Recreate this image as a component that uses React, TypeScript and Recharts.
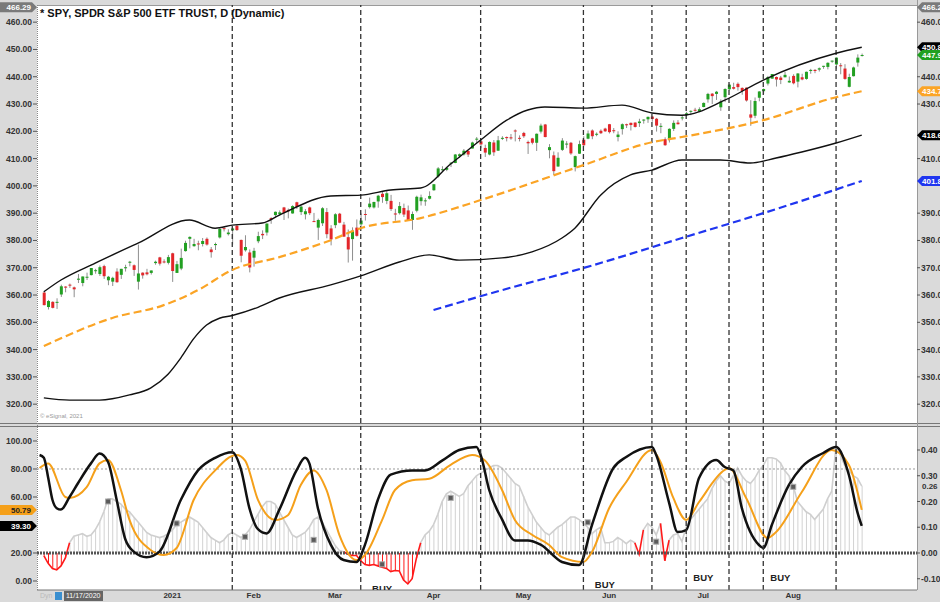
import { ComposedChart, Bar, Line, XAxis, YAxis, ReferenceLine, Scatter, Cell } from 'recharts';

// daily candles, index 0 = 11/18/2020 ... index 191 = 8/24/2021  [open, high, low, close]
const CANDLES: [number, number, number, number][] = [
  // Nov
  [360.9, 361.5, 356.2, 356.3], [355.6, 358.2, 354.7, 357.8], [357.5, 357.7, 355.1, 355.3], [357.3, 358.8, 354.9, 357.5],
  [360.2, 363.8, 359.3, 363.2], [363.1, 363.2, 361.0, 362.7], [363.8, 364.2, 362.6, 363.7], [362.8, 363.1, 359.2, 362.1],
  // Dec
  [365.6, 367.7, 364.4, 366.0], [364.4, 366.8, 363.2, 366.8], [366.7, 368.2, 365.5, 366.7], [367.3, 369.9, 367.2, 369.9],
  [369.0, 369.6, 367.8, 369.1], [367.7, 370.8, 367.0, 370.2], [370.6, 371.1, 365.9, 366.9], [365.4, 367.0, 363.6, 366.7],
  [364.9, 366.7, 363.3, 366.3], [368.6, 369.8, 364.5, 364.7], [367.4, 369.6, 365.9, 369.6], [369.8, 371.1, 368.6, 370.2],
  [371.9, 372.5, 370.5, 372.2], [370.9, 371.2, 367.0, 369.2], [364.9, 378.5, 362.0, 367.9], [368.2, 368.3, 366.0, 367.2],
  [368.3, 369.6, 367.2, 367.6], [368.1, 369.0, 367.5, 369.0], [371.7, 372.6, 371.1, 372.2], [373.8, 374.0, 370.8, 371.5],
  [372.3, 373.1, 371.6, 372.0], [371.8, 374.7, 371.2, 373.9],
  // Jan
  [375.3, 375.5, 364.8, 368.8], [368.1, 372.5, 368.1, 371.3], [369.7, 377.0, 369.1, 373.6], [376.1, 379.9, 375.9, 379.1],
  [380.6, 381.5, 377.1, 381.3], [377.9, 380.6, 377.7, 378.7], [378.9, 379.9, 376.4, 378.8], [378.7, 380.9, 377.8, 379.8],
  [380.6, 381.1, 378.1, 378.5], [376.7, 377.6, 373.7, 375.7], [378.3, 379.2, 376.5, 378.7], [381.1, 384.8, 380.7, 384.2],
  [384.5, 385.0, 383.3, 384.2], [382.3, 384.1, 381.8, 382.9], [383.7, 384.8, 378.5, 384.4], [385.4, 385.9, 383.5, 383.8],
  [380.2, 380.3, 372.0, 374.4], [376.4, 381.9, 375.9, 377.6], [375.6, 376.7, 368.3, 370.1],
  // Feb
  [373.7, 377.3, 370.4, 376.2], [379.7, 383.2, 379.0, 381.6], [382.4, 383.7, 380.5, 381.9], [382.9, 386.2, 381.8, 386.2],
  [388.2, 388.5, 386.1, 387.7], [389.3, 390.6, 388.4, 390.5], [389.6, 391.0, 389.2, 390.3], [392.1, 392.3, 387.5, 390.1],
  [391.2, 391.7, 388.1, 390.7], [389.9, 392.9, 389.8, 392.6], [394.0, 394.2, 391.5, 392.3], [390.4, 392.7, 389.3, 392.4],
  [389.6, 391.5, 387.7, 390.7], [392.1, 392.4, 389.3, 390.0], [387.1, 390.1, 386.9, 387.0], [384.7, 388.0, 380.2, 387.5],
  [386.3, 392.2, 385.3, 391.8], [390.4, 391.9, 380.8, 382.3], [384.4, 385.6, 378.2, 380.4],
  // Mar
  [385.6, 390.0, 384.5, 389.6], [389.8, 390.1, 386.3, 386.5], [385.8, 386.8, 381.3, 381.4], [381.2, 384.0, 371.9, 376.7],
  [380.5, 384.8, 372.6, 383.6], [384.7, 387.7, 381.4, 381.7], [385.9, 389.9, 385.3, 387.3], [389.7, 391.4, 387.3, 389.6],
  [392.2, 395.7, 391.7, 393.5], [392.1, 394.2, 391.7, 394.1], [394.3, 396.7, 392.0, 396.4], [397.1, 397.8, 393.8, 395.9],
  [394.5, 398.1, 393.3, 397.3], [394.5, 396.7, 390.8, 391.5], [389.9, 391.6, 387.2, 389.5], [390.0, 394.1, 389.5, 392.6],
  [391.9, 393.5, 388.6, 389.5], [391.0, 392.8, 387.2, 387.5], [387.5, 390.6, 383.9, 389.7], [390.9, 396.4, 390.3, 396.0],
  [394.4, 396.8, 392.8, 395.8], [394.4, 395.5, 392.7, 394.7], [395.3, 398.0, 395.0, 396.3],
  // Apr
  [398.4, 400.7, 398.2, 400.6], [403.5, 406.9, 403.0, 406.4], [405.8, 407.2, 405.4, 406.1], [405.9, 407.0, 405.4, 406.6],
  [408.4, 408.6, 406.9, 408.5], [408.4, 411.7, 408.3, 411.5], [410.9, 411.9, 410.2, 411.6], [411.5, 413.5, 411.1, 412.9],
  [412.8, 413.0, 410.6, 411.5], [413.7, 416.2, 413.7, 415.9], [417.3, 417.9, 415.7, 417.3], [416.3, 416.7, 413.8, 415.2],
  [413.9, 415.1, 410.6, 412.2], [411.5, 416.3, 411.2, 416.1], [415.9, 416.8, 411.0, 412.3], [412.9, 418.3, 412.8, 416.7],
  [417.4, 418.2, 416.8, 417.6], [417.9, 418.1, 416.3, 417.5], [417.8, 419.0, 416.9, 417.4], [420.3, 420.7, 416.3, 420.1],
  [417.6, 418.5, 416.3, 417.3],
  // May
  [419.4, 419.8, 417.6, 418.2], [416.1, 416.6, 411.7, 415.6], [417.4, 417.6, 415.2, 415.8], [415.8, 419.2, 412.8, 419.1],
  [419.9, 422.8, 419.2, 422.1], [422.5, 422.7, 417.8, 417.9], [413.1, 415.3, 410.1, 414.2], [411.2, 412.6, 404.0, 405.4],
  [407.1, 412.3, 407.0, 410.3], [413.2, 417.5, 412.8, 416.6], [415.4, 416.4, 413.8, 415.5], [415.8, 416.1, 411.4, 411.9],
  [406.9, 411.1, 405.3, 410.9], [411.8, 416.6, 411.7, 415.3], [416.9, 418.2, 414.5, 414.9], [417.3, 420.3, 417.1, 419.2],
  [420.3, 420.7, 417.1, 418.2], [418.9, 419.6, 418.2, 419.1], [420.2, 420.7, 419.0, 419.3], [421.0, 421.3, 419.8, 420.0],
  // Jun
  [422.6, 422.7, 419.2, 419.7], [420.4, 421.2, 419.3, 420.3], [417.9, 420.0, 416.3, 418.8], [420.8, 422.9, 418.8, 422.6],
  [422.6, 422.8, 421.2, 422.2], [423.1, 423.2, 420.3, 422.3], [423.2, 423.3, 421.4, 421.6], [423.0, 424.6, 421.6, 423.6],
  [424.2, 424.4, 422.8, 424.3], [424.4, 425.4, 423.1, 425.3], [425.4, 425.5, 423.5, 424.5], [424.6, 424.9, 419.9, 422.1],
  [421.7, 423.0, 419.3, 422.0], [417.1, 417.8, 414.7, 414.9], [416.8, 421.1, 415.9, 420.9], [420.9, 424.0, 420.1, 423.1],
  [423.2, 424.1, 422.5, 422.6], [424.9, 425.6, 424.0, 425.1], [425.9, 427.1, 425.6, 426.6], [427.2, 427.7, 425.9, 427.5],
  [427.9, 428.6, 427.2, 427.7], [427.2, 428.8, 427.0, 428.1],
  // Jul
  [428.9, 430.6, 428.8, 430.4], [431.7, 434.1, 430.5, 433.7], [433.8, 434.0, 430.0, 432.9], [433.7, 434.8, 431.5, 434.5],
  [428.8, 431.7, 427.5, 430.9], [432.5, 435.8, 430.7, 435.5], [435.4, 437.4, 435.0, 437.1], [436.2, 437.8, 435.3, 435.6],
  [437.4, 437.9, 434.9, 436.2], [435.9, 436.1, 433.4, 434.8], [436.0, 436.1, 430.9, 431.3], [426.2, 431.4, 422.0, 425.0],
  [425.7, 432.4, 424.8, 431.1], [432.3, 434.7, 431.0, 434.6], [434.7, 435.7, 433.7, 435.5], [437.5, 440.3, 436.8, 439.9],
  [439.3, 441.0, 439.3, 441.0], [439.9, 440.1, 436.4, 439.0], [439.7, 440.3, 437.3, 438.8], [439.8, 441.8, 439.8, 440.7],
  [437.9, 440.1, 437.8, 438.5],
  // Aug
  [440.3, 440.9, 437.2, 437.6], [438.2, 441.3, 436.1, 441.2], [439.8, 441.1, 438.7, 439.0], [439.2, 441.9, 438.9, 441.8],
  [442.1, 442.9, 441.1, 442.5], [442.5, 442.8, 441.3, 442.1], [442.6, 443.4, 441.9, 443.1], [443.8, 444.0, 442.9, 444.0],
  [443.6, 445.3, 442.7, 445.1], [445.6, 445.9, 445.1, 445.9], [444.5, 447.1, 442.9, 447.0], [444.2, 445.0, 440.9, 444.0],
  [443.0, 444.6, 438.9, 439.2], [436.3, 441.1, 436.1, 439.9], [440.2, 443.7, 440.1, 443.4], [445.2, 448.2, 443.7, 447.0],
  [447.6, 448.5, 447.4, 447.97],
];

const MONTH_TICKS = [30, 49, 68, 91, 112, 132, 154, 175];
const MONTH_LABELS = ['2021', 'Feb', 'Mar', 'Apr', 'May', 'Jun', 'Jul', 'Aug'];
const SIGNAL_DAYS = [44, 74, 102, 126, 142, 150, 160, 168, 185];
const PRICE_TICKS = [320, 330, 340, 350, 360, 370, 380, 390, 400, 410, 420, 430, 440, 450, 460];
// right-hand ticks that are not hidden behind the value badges
const PRICE_TICKS_RIGHT = [320, 330, 340, 350, 360, 370, 380, 390, 410, 430, 440, 460];

// [day index, price]
const UPPER_BAND = [
  [0, 361.2], [4, 365.5], [12, 371.7], [22, 379], [34, 387.5], [40, 384.5], [44, 385.6], [51, 386.4], [55, 389.3],
  [67, 396.3], [74, 396.6], [81, 398.5], [88, 399.2], [95, 408], [102, 416.8], [108, 424], [113, 427.8], [117, 428.9],
  [126, 428.5], [135, 429.6], [142, 426.7], [149, 425.9], [159, 431.4], [168, 438.8], [185, 448.6], [191, 450.8],
];
const LOWER_BAND = [
  [0, 322.3], [6, 321.5], [13, 321.5], [20, 323.4], [25, 326], [29, 331], [32, 337], [35, 344], [38, 349], [41, 351.5],
  [44, 352.5], [50, 355.5], [55, 358.9], [67, 363.7], [74, 367], [83, 372.1], [90, 374.7], [97, 372.8], [107, 373.6],
  [114, 375.8], [121, 380.9], [124, 384.5], [130, 396.6], [137, 404], [142, 405.8], [149, 409.5], [158, 409.5],
  [165, 408.4], [171, 410.2], [177, 412.4], [185, 415.7], [191, 418.6],
];
const MA_50 = [
  [0, 341.3], [16, 351.6], [28, 356.3], [36, 361.8], [44, 369.2], [55, 373.9], [67, 380.1], [74, 384.5], [88, 388.2],
  [102, 394.8], [126, 407.6], [142, 416], [149, 417.9], [168, 424.1], [185, 432.5], [191, 434.7],
];
const MA_200 = [[91, 354.5], [107, 361.8], [126, 369.9], [149, 380.9], [168, 390], [191, 401.8]];

// oscillator panel (left scale)
const OSC_K = [
  [-1, 90], [0, 88], [1, 74], [2, 58], [3, 52], [4, 51], [6, 60], [8, 70], [11, 84], [13, 91], [15, 85], [17, 58],
  [19, 30], [21, 21], [24, 17], [27, 21], [32, 58], [36, 79], [40, 88], [44, 92], [46, 80], [48, 52], [50, 37],
  [52, 34], [55, 51], [59, 79], [61, 88], [62, 84], [64, 52], [67, 26], [70, 15], [73, 13.6], [75, 26], [78, 58],
  [81, 76], [86, 79], [89, 79], [93, 86], [97, 93.6], [101, 95.7], [102, 90], [104, 65], [107, 44], [110, 29],
  [113, 29], [116, 26], [121, 13.6], [125, 11.4], [128, 40], [133, 80.7], [136, 88.6], [142, 95.7], [143, 90],
  [146, 56], [148, 35], [150, 36.4], [153, 73.6], [157, 86.4], [159, 81.4], [161, 79], [163, 52], [167, 25.7],
  [168, 23.6], [170, 40], [174, 68.6], [177, 81.4], [182, 91.4], [185, 95.7], [188, 75.7], [190, 49], [191, 39.3],
];
const OSC_D = [
  [-1, 80.7], [1, 84], [5, 60], [6, 59.3], [10, 67], [13, 84], [15, 86.4], [18, 65], [20, 43.6], [25, 22], [28, 18.6],
  [31, 23.6], [35, 58], [40, 79], [45, 90], [47, 86], [50, 58], [54, 43.6], [57, 47], [60, 68.6], [63, 79], [66, 65],
  [69, 33], [73, 15], [75, 18.6], [79, 43.6], [82, 65], [86, 72], [90, 73], [95, 83], [100, 90], [103, 86], [107, 65],
  [110, 43.6], [114, 33], [118, 25.7], [121, 17], [126, 13.6], [128, 20.7], [132, 52], [136, 70.7], [142, 93.6],
  [144, 85], [147, 59.3], [150, 43.6], [153, 56.4], [159, 79.3], [160, 80.7], [164, 59.3], [169, 30.7], [171, 35],
  [177, 63.6], [184, 93.6], [188, 82.9], [191, 50.8],
];

// histogram (right scale), one value per day
const HIST = [
  -0.01, -0.04, -0.06, -0.065, -0.05, -0.02, 0.04, 0.065, 0.07, 0.075,
  0.065, 0.07, 0.09, 0.12, 0.16, 0.21, 0.21, 0.2, 0.19, 0.17,
  0.16, 0.14, 0.12, 0.1, 0.08, 0.07, 0.065, 0.06, 0.065, 0.075,
  0.09, 0.11, 0.12, 0.13, 0.14, 0.13, 0.12, 0.1, 0.08, 0.06,
  0.05, 0.04, 0.05, 0.07, 0.08, 0.07, 0.06, 0.07, 0.09, 0.12,
  0.15, 0.18, 0.2, 0.2, 0.19, 0.16, 0.13, 0.1, 0.07, 0.06,
  0.07, 0.08, 0.1, 0.13, 0.14, 0.12, 0.09, 0.06, 0.03, 0.01,
  0.005, -0.005, -0.01, -0.01, -0.03, -0.045, -0.048, -0.045, -0.05, -0.055,
  -0.06, -0.072, -0.068, -0.07, -0.105, -0.12, -0.1, -0.02, 0.04, 0.07,
  0.085, 0.11, 0.15, 0.2, 0.23, 0.24, 0.23, 0.22, 0.23, 0.26,
  0.28, 0.3, 0.31, 0.32, 0.33, 0.34, 0.34, 0.33, 0.31, 0.29,
  0.27, 0.26, 0.22, 0.18, 0.15, 0.12, 0.1, 0.08, 0.07, 0.085,
  0.1, 0.11, 0.125, 0.14, 0.14, 0.13, 0.115, 0.1, 0.075, 0.09,
  0.1, 0.04, 0.04, 0.045, 0.06, 0.05, 0.036, 0.05, 0.04, -0.005,
  0.09, 0.115, 0.1, 0.07, 0.115, -0.03, 0.05, 0.07, 0.075, 0.045,
  0.1, 0.13, 0.15, 0.17, 0.19, 0.21, 0.25, 0.28, 0.3, 0.28,
  0.27, 0.3, 0.33, 0.3, 0.28, 0.27, 0.29, 0.32, 0.34, 0.37,
  0.37, 0.365, 0.35, 0.32, 0.3, 0.26, 0.2, 0.18, 0.16, 0.15,
  0.13, 0.15, 0.17, 0.21, 0.24, 0.42, 0.38, 0.34, 0.32, 0.3,
  0.29, 0.26,
];
const MARKS = [[15, 0.2], [31, 0.115], [47, 0.063], [63, 0.051], [79, -0.044], [95, 0.214], [127, 0.119], [143, 0.044], [175, 0.257]];
const BUY_DAYS = [79, 131, 154, 172];
const BUY_LEVELS = [-5, -2.2, 2.8, 2.8];
const OSC_TICKS = [0, 20, 60, 80, 100];
const HIST_TICKS = [-0.1, 0, 0.1, 0.2, 0.3, 0.4];

const FONT = '"Liberation Sans", Arial, sans-serif';
const X_DOMAIN: [number, number] = [-1.6, 203.9];
const axisTick = { fontSize: 8.5, fontWeight: 700, fill: '#333', fontFamily: FONT };

const pts = (arr: number[][]) => arr.map(([i, v]) => ({ i, v }));

const candleRows = CANDLES.map(([open, high, low, close], i) => ({ i, open, high, low, close }));
const histRows = HIST.map((h, i) => {
  const neg = h < 0 || (HIST[i - 1] ?? 0) < 0 || (HIST[i + 1] ?? 0) < 0;
  return { i, h, g: h >= 0 ? h : null, r: neg ? h : null };
});

const Candle = (props: any) => {
  const { x, y, width, height, payload } = props;
  if (!payload || height == null) return null;
  const top = Math.min(y, y + height);
  const h = Math.abs(height);
  const { open, close, high, low } = payload;
  const span = high - low || 1;
  const py = (v: number) => top + ((high - v) / span) * h;
  const bodyTop = py(Math.max(open, close));
  const bodyBot = py(Math.min(open, close));
  const cx = x + width / 2;
  return (
    <g>
      <line x1={cx} x2={cx} y1={top} y2={top + h} stroke="#8e8e8e" strokeWidth={1} />
      <rect x={cx - 1.5} y={bodyTop} width={3} height={Math.max(1, bodyBot - bodyTop)}
        fill={close >= open ? '#22a022' : '#e3262a'} />
    </g>
  );
};

const Badge = (props: any) => {
  const { viewBox, side, fill, color, text } = props;
  if (!viewBox) return null;
  const y = viewBox.y;
  if (side === 'right') {
    const x = viewBox.x + viewBox.width;
    return (
      <g>
        <path d={`M${x},${y} L${x + 5},${y - 5} L${x + 40},${y - 5} L${x + 40},${y + 5} L${x + 5},${y + 5} Z`} fill={fill} />
        <text x={x + 5} y={y + 3} fontSize={8} fontWeight={700} fill={color} fontFamily={FONT}>{text}</text>
      </g>
    );
  }
  const x = viewBox.x;
  return (
    <g>
      <path d={`M${x},${y} L${x - 5},${y - 5} L${x - 37},${y - 5} L${x - 37},${y + 5} L${x - 5},${y + 5} Z`} fill={fill} />
      <text x={x - 6} y={y + 3} textAnchor="end" fontSize={8} fontWeight={700} fill={color} fontFamily={FONT}>{text}</text>
    </g>
  );
};

const Square = (props: any) => (
  <rect x={props.cx - 2.5} y={props.cy - 2.5} width={5} height={5} fill="#5a5a5a" stroke="#aaa" strokeWidth={1} />
);

const BuyText = (props: any) => (
  <text x={props.cx} y={props.cy + 4} textAnchor="middle" fontSize={9.5} fontWeight={700} fill="#222" fontFamily={FONT}>BUY</text>
);

const PriceChart = () => (
  <ComposedChart width={940} height={424} data={candleRows} margin={{ top: 5, right: 0, bottom: 1, left: 0 }}>
    <XAxis dataKey="i" type="number" domain={X_DOMAIN} hide allowDataOverflow />
    <YAxis yAxisId="l" orientation="left" width={37} domain={[313.1, 466.29]} ticks={PRICE_TICKS} allowDataOverflow
      tickFormatter={(v: number) => v.toFixed(2)} tick={axisTick} tickSize={4} tickMargin={1}
      axisLine={false} tickLine={{ stroke: '#555' }} />
    <YAxis yAxisId="r" orientation="right" width={23} domain={[313.1, 466.29]} ticks={PRICE_TICKS_RIGHT} allowDataOverflow
      tickFormatter={(v: number) => v.toFixed(2)} tick={axisTick} tickSize={3} tickMargin={1}
      axisLine={false} tickLine={{ stroke: '#555' }} />
    {SIGNAL_DAYS.map((d) => (
      <ReferenceLine key={d} x={d} yAxisId="l" stroke="#333" strokeDasharray="5 3" strokeWidth={1.3} />
    ))}
    <Line data={pts(MA_200)} dataKey="v" yAxisId="l" type="monotone" stroke="#1f35f0" strokeWidth={2.2}
      strokeDasharray="8 4" dot={false} isAnimationActive={false} />
    <Line data={pts(MA_50)} dataKey="v" yAxisId="l" type="monotone" stroke="#fba425" strokeWidth={2.2}
      strokeDasharray="8 4" dot={false} isAnimationActive={false} />
    <Line data={pts(LOWER_BAND)} dataKey="v" yAxisId="l" type="monotone" stroke="#111" strokeWidth={1.4}
      dot={false} isAnimationActive={false} />
    <Line data={pts(UPPER_BAND)} dataKey="v" yAxisId="l" type="monotone" stroke="#111" strokeWidth={1.4}
      dot={false} isAnimationActive={false} />
    <Bar dataKey={(d: any) => [d.low, d.high]} yAxisId="l" barSize={3} shape={<Candle />} isAnimationActive={false} />
    <ReferenceLine yAxisId="l" y={465.5} stroke="none" label={<Badge side="left" fill="#7a7a7a" color="#fff" text="466.29" />} />
    <ReferenceLine yAxisId="r" y={465.5} stroke="none" label={<Badge side="right" fill="#7a7a7a" color="#fff" text="466.29" />} />
    <ReferenceLine yAxisId="r" y={450.8} stroke="none" label={<Badge side="right" fill="#000" color="#fff" text="450.80" />} />
    <ReferenceLine yAxisId="r" y={447.97} stroke="none" label={<Badge side="right" fill="#20a020" color="#fff" text="447.97" />} />
    <ReferenceLine yAxisId="r" y={434.7} stroke="none" label={<Badge side="right" fill="#fba425" color="#fff" text="434.70" />} />
    <ReferenceLine yAxisId="r" y={418.6} stroke="none" label={<Badge side="right" fill="#000" color="#fff" text="418.60" />} />
    <ReferenceLine yAxisId="r" y={401.8} stroke="none" label={<Badge side="right" fill="#1f35f0" color="#fff" text="401.80" />} />
  </ComposedChart>
);

const OscChart = () => (
  <ComposedChart width={940} height={178} data={histRows} margin={{ top: 2, right: 0, bottom: 0, left: 0 }}>
    <XAxis dataKey="i" type="number" domain={X_DOMAIN} allowDataOverflow ticks={MONTH_TICKS} height={12}
      tickFormatter={(v: number) => MONTH_LABELS[MONTH_TICKS.indexOf(v)] ?? ''}
      tick={{ fontSize: 8, fontWeight: 700, fill: '#333', fontFamily: FONT }} tickSize={0} tickMargin={2}
      axisLine={{ stroke: '#777' }} />
    <YAxis yAxisId="l" orientation="left" width={37} domain={[-6.43, 110.7]} ticks={OSC_TICKS} allowDataOverflow
      tickFormatter={(v: number) => v.toFixed(2)} tick={axisTick} tickSize={4} tickMargin={1}
      axisLine={false} tickLine={{ stroke: '#555' }} />
    <YAxis yAxisId="r" orientation="right" width={23} domain={[-0.1437, 0.4932]} ticks={HIST_TICKS} allowDataOverflow
      tickFormatter={(v: number) => v.toFixed(2)} tick={axisTick} tickSize={3} tickMargin={1}
      axisLine={false} tickLine={{ stroke: '#555' }} />
    <Bar dataKey="h" yAxisId="r" barSize={1} isAnimationActive={false}>
      {histRows.map((r) => (
        <Cell key={r.i} fill={r.h < 0 ? '#ff1a1a' : '#d2d2d2'} />
      ))}
    </Bar>
    <Line dataKey="g" yAxisId="r" type="linear" stroke="#cfcfcf" strokeWidth={1.6} dot={false} isAnimationActive={false} />
    <Line dataKey="r" yAxisId="r" type="linear" stroke="#ff1a1a" strokeWidth={1.6} dot={false} isAnimationActive={false} />
    <ReferenceLine yAxisId="l" y={80} stroke="#9a9a9a" strokeDasharray="2 2" strokeWidth={1} />
    <ReferenceLine yAxisId="l" y={20} stroke="#555" strokeDasharray="2 1" strokeWidth={3} />
    <Line data={pts(OSC_D)} dataKey="v" yAxisId="l" type="monotone" stroke="#f5a01a" strokeWidth={2}
      dot={false} isAnimationActive={false} />
    <Line data={pts(OSC_K)} dataKey="v" yAxisId="l" type="monotone" stroke="#111" strokeWidth={2.5}
      dot={false} isAnimationActive={false} />
    <Scatter data={pts(MARKS)} dataKey="v" yAxisId="r" shape={<Square />} isAnimationActive={false} />
    {SIGNAL_DAYS.map((d) => (
      <ReferenceLine key={d} x={d} yAxisId="l" stroke="#333" strokeDasharray="5 3" strokeWidth={1.3} />
    ))}
    <Scatter data={BUY_DAYS.map((i, k) => ({ i, v: BUY_LEVELS[k] }))} dataKey="v" yAxisId="l" shape={<BuyText />}
      isAnimationActive={false} />
    <ReferenceLine yAxisId="l" y={50.79} stroke="none" label={<Badge side="left" fill="#f5a01a" color="#222" text="50.79" />} />
    <ReferenceLine yAxisId="l" y={39.3} stroke="none" label={<Badge side="left" fill="#000" color="#fff" text="39.30" />} />
    <ReferenceLine yAxisId="r" y={0.26} stroke="none" label={<Badge side="right" fill="none" color="#333" text="0.26" />} />
  </ComposedChart>
);

export default function App() {
  return (
    <div style={{ position: 'absolute', left: 0, top: 0, width: 940, height: 602, background: '#dadada', overflow: 'hidden', fontFamily: FONT }}>
      <div style={{ position: 'absolute', left: 37, top: 5, width: 880, height: 418, background: '#fff', borderTop: '1px solid #9a9a9a' }} />
      <div style={{ position: 'absolute', left: 37, top: 426, width: 880, height: 164, background: '#fff' }} />
      <div style={{ position: 'absolute', left: 0, top: 423, width: 940, height: 1, background: '#777' }} />
      <div style={{ position: 'absolute', left: 0, top: 426, width: 940, height: 1, background: '#777' }} />
      <div style={{ position: 'absolute', left: 917, top: 0, width: 1, height: 590, background: '#999' }} />
      <div style={{ position: 'absolute', left: 37, top: 5, width: 0, height: 585, borderLeft: '1px dotted #888' }} />
      <div style={{ position: 'absolute', left: 0, top: 0 }}>
        <PriceChart />
      </div>
      <div style={{ position: 'absolute', left: 0, top: 424 }}>
        <OscChart />
      </div>
      <div style={{ position: 'absolute', left: 40, top: 7, fontSize: 11, fontWeight: 700, color: '#111', whiteSpace: 'nowrap' }}>
        * SPY, SPDR S&amp;P 500 ETF TRUST, D (Dynamic)
      </div>
      <div style={{ position: 'absolute', left: 40, top: 413, fontSize: 6, color: '#999', whiteSpace: 'nowrap' }}>© eSignal, 2021</div>
      <div style={{ position: 'absolute', left: 40, top: 592, fontSize: 7, color: '#bbb' }}>Dyn</div>
      <div style={{ position: 'absolute', left: 55, top: 592, width: 7, height: 8, background: '#3a8fd0' }} />
      <div style={{ position: 'absolute', left: 64, top: 591, padding: '0 2px', fontSize: 7, lineHeight: '10px', background: '#666', color: '#fff' }}>11/17/2020</div>
    </div>
  );
}
